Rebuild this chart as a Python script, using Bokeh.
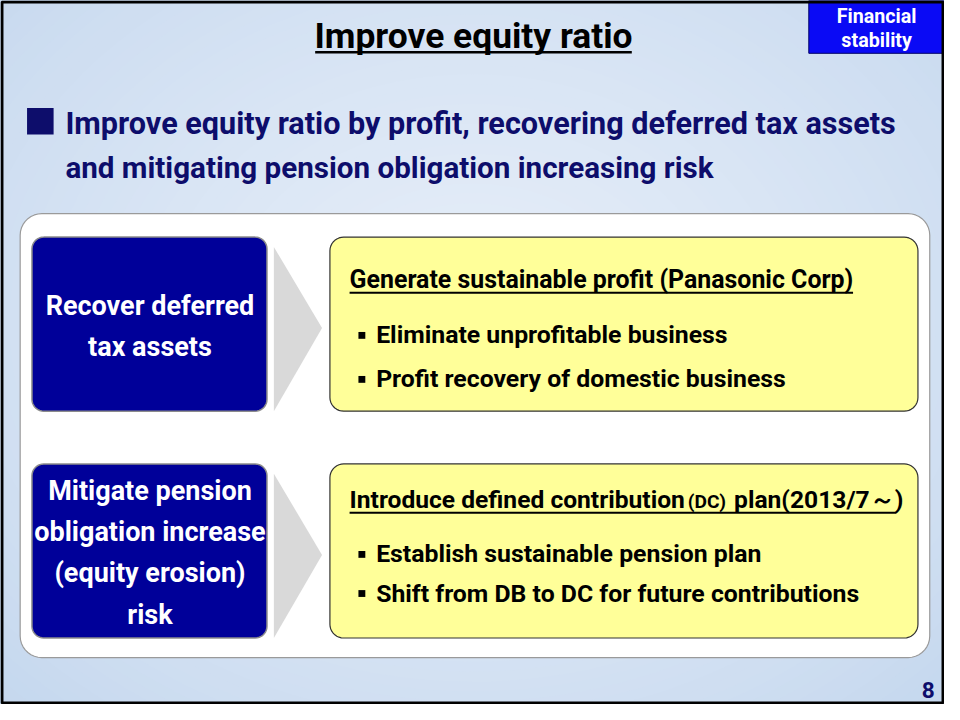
import numpy as np
from bokeh.plotting import figure
from bokeh.models import Range1d
from bokeh.core.properties import value
from bokeh.embed import file_html
from bokeh.resources import INLINE

# ---- content ----
title = "Improve equity ratio"
badge_lines = ["Financial", "stability"]
lead_lines = ["Improve equity ratio by profit, recovering deferred tax assets",
              "and mitigating pension obligation increasing risk"]
left_labels = [["Recover deferred", "tax assets"],
               ["Mitigate pension", "obligation increase", "(equity erosion)", "risk"]]
head1 = ["Generate sustainable profit (Panasonic Corp)"]
head2 = ["Introduce defined contribution", "(DC)", "plan(2013/7～)"]
bullets = [["Eliminate unprofitable business", "Profit recovery of domestic business"],
           ["Establish sustainable pension plan", "Shift from DB to DC for future contributions"]]
page_no = "8"

# ---- layout (slide coordinates, 960 x 720, y downward) ----
W, H = 944, 704
S = W / 960.0
FONT = value("Roboto")
NAVY_TXT = "#0d0d6b"
BOX_NAVY = "#000099"
YELLOW = "#ffff99"

def px(v):
    return f"{v * S:.1f}px"

p = figure(width=W, height=H, x_range=Range1d(0, 960), y_range=Range1d(720, 0),
           output_backend="svg", toolbar_location=None, min_border=0,
           x_axis_location=None, y_axis_location=None)
p.grid.visible = False
p.outline_line_color = None
p.background_fill_color = "#c0d4ed"
p.border_fill_color = "white"

# background radial gradient (concentric ellipses)
c_out = np.array([0xbe, 0xd3, 0xec], float)
c_in = np.array([0xe8, 0xef, 0xf9], float)
n = 60
for i in range(n):
    t = i / (n - 1)
    col = c_out + (c_in - c_out) * (t ** 0.75)
    sc = 1.0 - t
    p.ellipse(x=480, y=330, width=1500 * sc + 1, height=1200 * sc + 1,
              fill_color="#%02x%02x%02x" % tuple(int(round(v)) for v in col),
              line_color=None)


def rrect(x0, y0, x1, y1, r, k=10):
    xs, ys = [], []
    centers = [(x1 - r, y0 + r), (x1 - r, y1 - r), (x0 + r, y1 - r), (x0 + r, y0 + r)]
    for ci, (cx, cy) in enumerate(centers):
        a0 = np.radians(90 - 90 * ci)
        for a in np.linspace(a0, a0 - np.pi / 2, k):
            xs.append(cx + r * np.cos(a))
            ys.append(cy - r * np.sin(a))
    return xs, ys


def box(x0, y0, x1, y1, r, fill, line, lw):
    xs, ys = rrect(x0, y0, x1, y1, r)
    p.patch(xs, ys, fill_color=fill, line_color=line, line_width=lw)


def txt(x, y, s, size, color="black", align="left", bold=True):
    p.text(x=[x], y=[y], text=[s], text_font=FONT,
           text_font_style="bold" if bold else "normal",
           text_font_size=px(size), text_color=color,
           text_align=align, text_baseline="middle")

# title
txt(481, 36, title, 36, "black", "center")
p.segment(x0=[320], y0=[53], x1=[642], y1=[53], line_color="black", line_width=2.5)

# badge
p.quad(left=[822], right=[960], top=[0], bottom=[54], fill_color="#0a0af5",
       line_color="#000066", line_width=1)
for i, s in enumerate(badge_lines):
    txt(891, 16 + i * 25, s, 20, "white", "center")

# lead
p.quad(left=[27], right=[54], top=[110], bottom=[137], fill_color=NAVY_TXT, line_color=None)
lead_sizes = [31.1, 30.1]
for i, s in enumerate(lead_lines):
    txt(66, 126 + i * 45, s, lead_sizes[i], NAVY_TXT)

# white panel
box(20, 218, 945, 672, 22, "white", "#9a9a9a", 1.2)

rows = [(242, 420), (474, 652)]
for ri, (y0, y1) in enumerate(rows):
    box(32, y0, 271, y1, 12, BOX_NAVY, "#8c8c8c", 1.5)
    lines = left_labels[ri]
    cy = (y0 + y1) / 2 + 2
    step = 42
    for li, s in enumerate(lines):
        txt(152, cy + (li - (len(lines) - 1) / 2) * step, s, 27.5, "white", "center")
    p.patch([278, 327, 278], [y0 + 10, (y0 + y1) / 2 + 4, y1], fill_color="#d9d9d9",
            line_color=None)
    box(335, y0, 933, y1, 14, YELLOW, "#333333", 1.2)

# heading 1
txt(355, 285, head1[0], 25.3)
p.segment(x0=[355], y0=[299], x1=[867], y1=[299], line_color="black", line_width=2)
# heading 2 (mixed sizes)
txt(355, 510, head2[0], 25.0)
txt(699, 512, head2[1], 19.5)
txt(746, 510, head2[2], 25.0)
p.segment(x0=[355], y0=[524], x1=[911], y1=[524], line_color="black", line_width=2)

bullet_y = [[342, 387], [566, 606]]
for ri in range(2):
    for bi, s in enumerate(bullets[ri]):
        y = bullet_y[ri][bi]
        p.quad(left=[364], right=[371], top=[y - 3], bottom=[y + 4], fill_color="black",
               line_color=None)
        txt(382, y, s, 25.2)

# page number
txt(950, 705, page_no, 23, NAVY_TXT, "right")

# slide border
p.quad(left=[1.5], right=[958.5], top=[1.5], bottom=[718.5], fill_color=None,
       line_color="black", line_width=3)

open("out.html", "w").write(file_html(p, INLINE))
